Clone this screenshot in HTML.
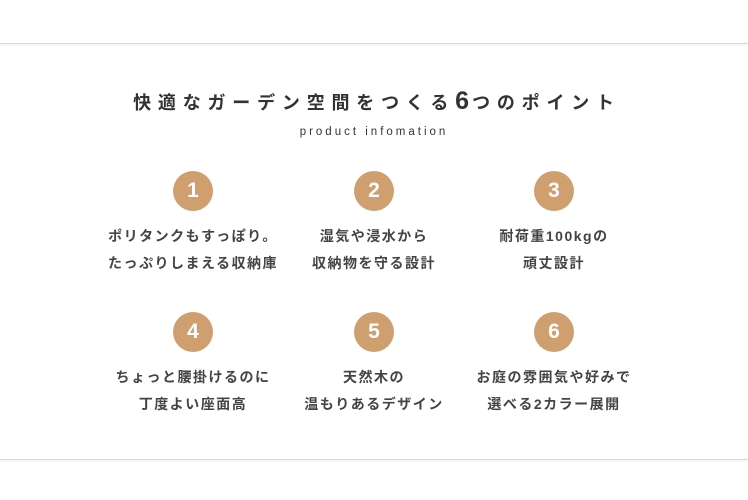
<!DOCTYPE html>
<html><head><meta charset="utf-8"><style>
body{margin:0;width:748px;height:500px;background:#fff;position:relative;overflow:hidden;font-family:"Liberation Sans","Noto Sans CJK JP",sans-serif;color:#3a3a3a}
.line{position:absolute;left:0;width:748px;height:1px;background:#d8d8d8;box-shadow:0 1px 2px rgba(0,0,0,.12)}
.t{position:absolute;left:0;width:748px;text-align:center;white-space:nowrap}
.c{position:absolute;width:40px;height:40px;border-radius:50%;background:#cf9f70;color:#fff;font-weight:bold;font-size:21px;line-height:40px;text-align:center}
.d{position:absolute;width:200px;text-align:center;font-size:14px;font-weight:bold;letter-spacing:1.5px;line-height:27px;color:#444;white-space:nowrap}
</style></head><body>
<div class="line" style="top:43px"></div>
<div class="line" style="top:459px"></div>
<div class="t" style="top:87px;font-size:18px;font-weight:bold;letter-spacing:6.8px;padding-left:6px;box-sizing:border-box;color:#333">快適なガーデン空間をつくる<span style="font-size:25px;letter-spacing:3px">6</span>つのポイント</div>
<div class="t" style="top:126px;font-size:11.5px;letter-spacing:3px;color:#333">product infomation</div>
<div class="c" style="left:173px;top:171px">1</div>
<div class="c" style="left:354px;top:171px">2</div>
<div class="c" style="left:534px;top:171px">3</div>
<div class="c" style="left:173px;top:312px">4</div>
<div class="c" style="left:354px;top:312px">5</div>
<div class="c" style="left:534px;top:312px">6</div>
<div class="d" style="left:93px;top:223px">ポリタンクもすっぽり。<br>たっぷりしまえる収納庫</div>
<div class="d" style="left:274px;top:223px">湿気や浸水から<br>収納物を守る設計</div>
<div class="d" style="left:454px;top:223px">耐荷重100kgの<br>頑丈設計</div>
<div class="d" style="left:93px;top:364px">ちょっと腰掛けるのに<br>丁度よい座面高</div>
<div class="d" style="left:274px;top:364px">天然木の<br>温もりあるデザイン</div>
<div class="d" style="left:454px;top:364px">お庭の雰囲気や好みで<br>選べる2カラー展開</div>
</body></html>
